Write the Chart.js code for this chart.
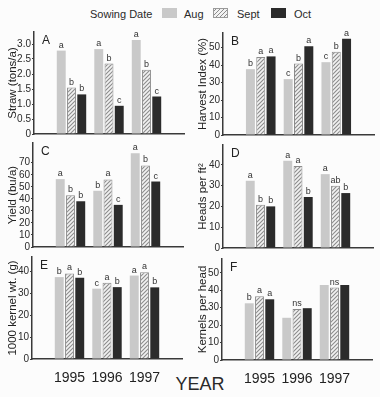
<!DOCTYPE html>
<html>
<head>
<meta charset="utf-8">
<script src="https://cdn.jsdelivr.net/npm/chart.js@4.4.0/dist/chart.umd.min.js"></script>
<style>
  body { margin: 0; background: #fcfcfc; width: 380px; height: 397px; overflow: hidden; position: relative;
         font-family: 'Liberation Sans', Arial, sans-serif; color: #2a2a2a; }
  canvas { position: absolute; }
  .lg { position: absolute; top: 8px; font-size: 11px; line-height: 12px; }
  .sw { position: absolute; top: 8px; width: 15px; height: 10px; box-sizing: border-box; }
  #year { position: absolute; left: 0; width: 400px; text-align: center; top: 374px; font-size: 18px; }
</style>
</head>
<body>
<span class="lg" style="left:90px">Sowing Date</span>
<span class="sw" style="left:162px;background:#c9c9c9"></span>
<span class="lg" style="left:184px">Aug</span>
<span class="sw" style="left:213px;border:1px solid #9a9a9a;background:repeating-linear-gradient(-45deg,#f2f2f2 0 1.6px,#8c8c8c 1.6px 2.8px)"></span>
<span class="lg" style="left:237px">Sept</span>
<span class="sw" style="left:271px;background:#2b2b2b"></span>
<span class="lg" style="left:294px">Oct</span>
<div id="year">YEAR</div>

<script>
// Chart data
const years = ['1995', '1996', '1997'];

const strawAug  = [2.78, 2.83, 3.13];
const strawSept = [1.55, 2.35, 2.14];
const strawOct  = [1.32, 0.94, 1.25];
const strawSig  = [['a', 'a', 'a'], ['b', 'b', 'b'], ['b', 'c', 'c']];

const hiAug  = [37.7, 32.0, 41.7];
const hiSept = [44.7, 40.9, 47.7];
const hiOct  = [45.0, 50.8, 55.1];
const hiSig  = [['b', 'c', 'c'], ['a', 'b', 'b'], ['a', 'a', 'a']];

const yieldAug  = [56.4, 46.7, 77.8];
const yieldSept = [43.0, 56.1, 67.8];
const yieldOct  = [38.0, 35.0, 54.4];
const yieldSig  = [['a', 'b', 'a'], ['b', 'a', 'b'], ['b', 'c', 'c']];

const headsAug  = [32.3, 41.9, 35.5];
const headsSept = [20.8, 39.4, 29.9];
const headsOct  = [20.0, 24.5, 26.4];
const headsSig  = [['a', 'a', 'a'], ['b', 'a', 'ab'], ['b', 'b', 'b']];

const kwtAug  = [37.5, 32.2, 38.2];
const kwtSept = [39.2, 34.9, 39.7];
const kwtOct  = [37.2, 32.9, 32.8];
const kwtSig  = [['b', 'c', 'a'], ['a', 'a', 'a'], ['b', 'b', 'b']];

const kphAug  = [32.5, 24.2, 43.0];
const kphSept = [36.5, 29.3, 41.5];
const kphOct  = [34.8, 29.7, 43.0];
const kphSig  = [['b', '', ''], ['a', 'ns', 'ns'], ['a', '', '']];

Chart.defaults.font.family = "'Liberation Sans', Arial, sans-serif";
Chart.defaults.color = '#2a2a2a';

const AUG_COLOR = '#c9c9c9';
const OCT_COLOR = '#2b2b2b';
const AXIS = '#3a3a3a';
const PT = 8, PR = 4;

// diagonal hatch for the Sept bars
const tile = document.createElement('canvas');
tile.width = 4; tile.height = 4;
const tctx = tile.getContext('2d');
tctx.fillStyle = '#f2f2f2';
tctx.fillRect(0, 0, 4, 4);
tctx.strokeStyle = '#8c8c8c';
tctx.lineWidth = 1.1;
tctx.beginPath();
tctx.moveTo(0, 4); tctx.lineTo(4, 0);
tctx.moveTo(-1, 1); tctx.lineTo(1, -1);
tctx.moveTo(3, 5); tctx.lineTo(5, 3);
tctx.stroke();
const hatch = tctx.createPattern(tile, 'repeat');

// significance letters + panel letter
const sigPlugin = {
  id: 'sig',
  afterDatasetsDraw(chart, args, opts) {
    const ctx = chart.ctx;
    ctx.save();
    ctx.fillStyle = '#333';
    ctx.font = "9px 'Liberation Sans', Arial, sans-serif";
    ctx.textAlign = 'center';
    ctx.textBaseline = 'alphabetic';
    chart.data.datasets.forEach((ds, i) => {
      chart.getDatasetMeta(i).data.forEach((bar, j) => {
        const s = ds.sig[j - 1];
        if (s) ctx.fillText(s, bar.x, bar.y - 3);
      });
    });
    ctx.font = "12px 'Liberation Sans', Arial, sans-serif";
    ctx.textAlign = 'left';
    ctx.fillStyle = '#222';
    ctx.fillText(opts.letter, chart.chartArea.left + 8, chart.chartArea.top + 12);
    ctx.restore();
  }
};

const panels = [
  { id: 'A', title: 'Straw (tons/a)', aug: strawAug, sept: strawSept, oct: strawOct, sig: strawSig,
    colLeft: 0, axisX: 34, right: 184, top: 32, bottom: 134, max: 3.4, step: 0.5, tickTop: 3.0, years: false },
  { id: 'B', title: 'Harvest Index (%)', aug: hiAug, sept: hiSept, oct: hiOct, sig: hiSig,
    colLeft: 190, axisX: 223, right: 374, top: 33, bottom: 135, max: 58.4, step: 10, tickTop: 50, years: false },
  { id: 'C', title: 'Yield (bu/a)', aug: yieldAug, sept: yieldSept, oct: yieldOct, sig: yieldSig,
    colLeft: 0, axisX: 33, right: 183, top: 143, bottom: 247, max: 86.4, step: 10, tickTop: 80, years: false },
  { id: 'D', title: 'Heads per ft\u00B2', aug: headsAug, sept: headsSept, oct: headsOct, sig: headsSig,
    colLeft: 190, axisX: 223, right: 373, top: 145, bottom: 248.5, max: 49.5, step: 10, tickTop: 40, years: false },
  { id: 'E', title: '1000 kernel wt. (g)', aug: kwtAug, sept: kwtSept, oct: kwtOct, sig: kwtSig,
    colLeft: 0, axisX: 32, right: 182, top: 257, bottom: 359.5, max: 46.7, step: 10, tickTop: 40, years: true },
  { id: 'F', title: 'Kernels per head', aug: kphAug, sept: kphSept, oct: kphOct, sig: kphSig,
    colLeft: 190, axisX: 222, right: 372, top: 259, bottom: 360.5, max: 57.9, step: 10, tickTop: 50, years: true },
];

function makePanel(p) {
  const yw = p.axisX - p.colLeft;
  const xh = p.years ? 24 : 8;
  const cv = document.createElement('canvas');
  cv.width = yw + (p.right - p.axisX) + PR;
  cv.height = PT + (p.bottom - p.top) + xh;
  cv.style.left = p.colLeft + 'px';
  cv.style.top = (p.top - PT) + 'px';
  document.body.appendChild(cv);

  const pad = v => [null, ...v, null];

  new Chart(cv, {
    type: 'bar',
    data: {
      labels: ['', ...years, ''],
      datasets: [
        { data: pad(p.aug), backgroundColor: AUG_COLOR, borderWidth: 0, sig: p.sig[0] },
        { data: pad(p.sept), backgroundColor: hatch, borderColor: '#8c8c8c', borderWidth: 1, sig: p.sig[1] },
        { data: pad(p.oct), backgroundColor: OCT_COLOR, borderWidth: 0, sig: p.sig[2] },
      ]
    },
    options: {
      responsive: false,
      animation: false,
      devicePixelRatio: 1,
      layout: { padding: { top: PT, right: PR, left: 0, bottom: 0 } },
      plugins: { legend: { display: false }, tooltip: { enabled: false }, sig: { letter: p.id } },
      datasets: { bar: { categoryPercentage: 0.82, barPercentage: 0.87 } },
      scales: {
        x: {
          offset: false,
          grid: { display: false },
          border: { display: true, color: AXIS, width: 1.5 },
          ticks: { display: p.years, font: { size: 14 }, color: '#222', padding: 3, maxRotation: 0, autoSkip: false },
          afterFit: s => { s.height = xh; }
        },
        y: {
          min: 0,
          max: p.max,
          ticks: {
            stepSize: p.step,
            font: { size: 10 },
            color: '#2a2a2a',
            padding: 1,
            autoSkip: false,
            callback: v => (p.step < 1 ? (v === 0 ? '0' : v.toFixed(1)) : v)
          },
          afterBuildTicks: s => { s.ticks = s.ticks.filter(t => t.value <= p.tickTop + 1e-9); },
          afterFit: s => { s.width = yw; },
          title: { display: true, text: p.title, font: { size: 11.5 }, color: '#222', padding: { top: 6, bottom: 0 } },
          grid: { drawOnChartArea: false, drawTicks: true, tickLength: 2, color: AXIS, lineWidth: 1 },
          border: { display: true, color: AXIS, width: 1.5 }
        }
      }
    },
    plugins: [sigPlugin]
  });
}

panels.forEach(makePanel);
</script>
</body>
</html>
